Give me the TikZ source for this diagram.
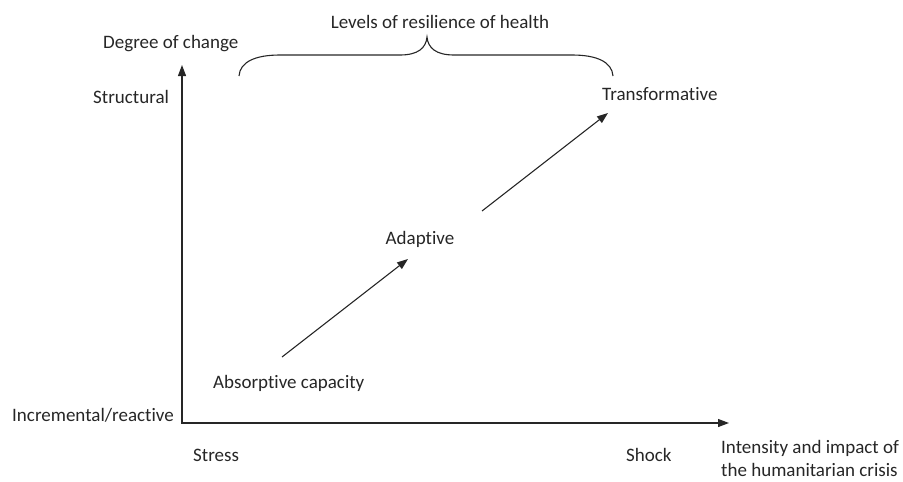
\documentclass[tikz,border=0pt]{standalone}
\usepackage{fontspec}
\setmainfont{Carlito}[Ligatures=NoCommon]
\usetikzlibrary{arrows.meta}
\begin{document}
\begin{tikzpicture}[x=1pt,y=-1pt,
  lbl/.style={inner sep=0pt,text=black!85,font=\fontsize{19}{23}\selectfont},
  axis/.style={line width=1.2pt,draw=black!85,-{Triangle[length=11pt,width=8pt]}},
  flow/.style={line width=1.1pt,draw=black!85,-{Triangle[length=11pt,width=8pt]}}]
\useasboundingbox (0,0) rectangle (903,482);
% axes
\coordinate (o) at (182,423);
\coordinate (ytip) at (182,65);
\coordinate (xtip) at (729,423);
\draw[axis] (o) -- (ytip);
\draw[axis] (181.4,423) -- (xtip);
% labels
\node[lbl,anchor=west] (deg) at (103,44) {Degree of change};
\node[lbl,anchor=west] (str) at (93,97) {Structural};
\node[lbl,anchor=west] (inc) at (12,415) {Incremental/reactive};
\node[lbl,anchor=west] (stress) at (193,455) {Stress};
\node[lbl,anchor=west] (shock) at (626,455) {Shock};
\node[lbl,anchor=north west,align=left] (int) at (721,440) {Intensity and impact of\\the humanitarian crisis};
\node[lbl] (lev) at (440,22) {Levels of resilience of health};
\node[lbl,anchor=west] (trans) at (602,94) {Transformative};
\node[lbl] (adap) at (420,239) {Adaptive};
\node[lbl,anchor=west] (abs) at (213,383) {Absorptive capacity};
% brace
\draw[line width=1.1pt,draw=black!85] (239,76) .. controls (240,62) and (255,55) .. (280,55)
  -- (400,55) .. controls (418,55) and (426,48) .. (427,37)
  .. controls (428,48) and (436,55) .. (454,55) -- (572,55)
  .. controls (597,55) and (612,62) .. (613,76);
% progression arrows
\coordinate (a1) at (282,357);
\coordinate (a2) at (408,259);
\coordinate (b1) at (482,211);
\coordinate (b2) at (608,113);
\draw[flow] (a1) -- (a2);
\draw[flow] (b1) -- (b2);
\end{tikzpicture}
\end{document}
